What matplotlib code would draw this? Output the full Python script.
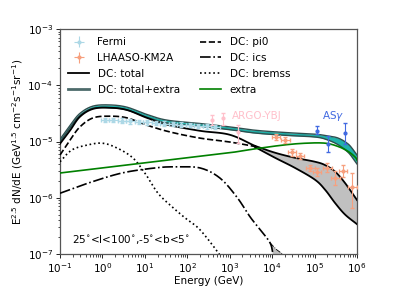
"""Diffuse gamma-ray spectrum, 25<l<100, |b|<5: DC model components vs data."""
import numpy as np
import matplotlib.pyplot as plt
from matplotlib.lines import Line2D

plt.rcParams['font.size'] = 7.5

# ---- model curves (log10 E [GeV], log10 E^2.5 dN/dE) ----
tot_logE = [-1.0, -0.76, -0.53, -0.22, 0.18, 0.58, 1.05, 1.52, 2.30, 3.00, 3.60]
tot_logF = [-5.04, -4.80, -4.56, -4.42, -4.40, -4.44, -4.58, -4.70, -4.81, -4.88, -5.08]

band_logE = [3.60, 4.07, 4.54, 5.01, 5.25, 5.49, 5.72, 6.00]
band_hi = [-5.08, -5.20, -5.29, -5.36, -5.42, -5.54, -5.74, -6.04]
band_lo = [-5.10, -5.29, -5.47, -5.68, -5.86, -6.10, -6.30, -6.47]

tx_logE = [-1.0, -0.76, -0.53, -0.22, 0.18, 0.58, 1.05, 1.52, 2.30, 3.00, 3.60,
           4.30, 5.01, 5.30, 5.56, 5.80, 5.96, 6.00]
tx_hi = [-4.96, -4.71, -4.50, -4.37, -4.35, -4.39, -4.52, -4.62, -4.68, -4.74, -4.80,
         -4.84, -4.87, -4.90, -4.94, -5.05, -5.20, -5.24]
tx_lo = [-5.00, -4.75, -4.54, -4.41, -4.40, -4.44, -4.57, -4.67, -4.73, -4.79, -4.85,
         -4.89, -4.92, -4.97, -5.06, -5.20, -5.36, -5.40]

pi0_logE = [-1.0, -0.76, -0.53, -0.22, 0.18, 0.58, 1.05, 1.59, 2.30, 3.01, 3.60, 3.75]
pi0_logF = [-5.24, -4.97, -4.74, -4.58, -4.55, -4.58, -4.71, -4.83, -4.94, -5.01, -5.09, -5.12]

ics_logE = [-1.0, -0.34, 0.46, 1.24, 1.71, 2.30, 2.77, 3.17, 3.48, 3.72, 3.95, 4.02, 4.10]
ics_logF = [-5.92, -5.74, -5.56, -5.47, -5.45, -5.47, -5.65, -5.99, -6.34, -6.57, -6.80, -7.0, -7.3]
icsb_logE = [3.95, 4.10, 4.30, 4.45]
icsb_logF = [-6.80, -6.92, -7.03, -7.15]

brem_logE = [-1.0, -0.72, -0.34, -0.01, 0.30, 0.70, 1.00, 1.31, 1.64, 1.95, 2.30, 2.77, 3.0]
brem_logF = [-5.36, -5.15, -5.06, -5.03, -5.10, -5.28, -5.56, -5.92, -6.16, -6.36, -6.57, -7.02, -7.3]

ext_logE = [-1.0, 0.0, 1.0, 2.0, 3.0, 3.6, 4.3, 4.8, 5.25, 5.56, 5.8, 5.96, 6.0]
ext_logF = [-5.56, -5.47, -5.38, -5.29, -5.20, -5.13, -5.06, -5.03, -5.03, -5.09, -5.18, -5.28, -5.33]

# ---- data points ----
fermi_logE = [0.06, 0.26, 0.46, 0.66, 0.86, 1.06, 1.26, 1.46, 1.66, 1.86, 2.06, 2.26, 2.46, 2.66]
fermi_logF = [-4.62, -4.62, -4.63, -4.64, -4.65, -4.66, -4.67, -4.68, -4.69, -4.70,
              -4.71, -4.72, -4.73, -4.74]

lh_logE = [4.09, 4.31, 4.47, 4.66, 4.90, 5.06, 5.30, 5.49, 5.67, 5.89]
lh_logF = [-4.92, -4.97, -5.19, -5.26, -5.47, -5.54, -5.47, -5.65, -5.52, -5.81]
lh_up = [0.05, 0.05, 0.06, 0.06, 0.06, 0.07, 0.08, 0.12, 0.11, 0.25]
lh_dn = [0.05, 0.05, 0.06, 0.06, 0.06, 0.07, 0.08, 0.12, 0.11, 0.37]

argo_logE = [2.58, 2.84, 3.20]
argo_logF = [-4.62, -4.58, -4.83]
argo_up = [0.09, 0.09, 0.12]
argo_dn = [0.09, 0.13, 0.20]

asg_logE = [5.06, 5.32, 5.72]
asg_logF = [-4.81, -5.04, -4.85]
asg_up = [0.09, 0.14, 0.18]
asg_dn = [0.06, 0.15, 0.19]


def p10(a):
    return 10.0 ** np.asarray(a)


def smooth(xs, ys, n=12):
    # Catmull-Rom through the read-off points, done in log-log space
    x = np.asarray(xs, float)
    y = np.asarray(ys, float)
    xp = np.concatenate([[2 * x[0] - x[1]], x, [2 * x[-1] - x[-2]]])
    yp = np.concatenate([[2 * y[0] - y[1]], y, [2 * y[-1] - y[-2]]])
    t = np.linspace(0, 1, n, endpoint=False)
    ox, oy = [], []
    for i in range(1, len(xp) - 2):
        for arr, out in ((xp, ox), (yp, oy)):
            p0, p1, p2, p3 = arr[i - 1:i + 3]
            out.extend(0.5 * (2 * p1 + (-p0 + p2) * t + (2 * p0 - 5 * p1 + 4 * p2 - p3) * t ** 2
                              + (-p0 + 3 * p1 - 3 * p2 + p3) * t ** 3))
    ox.append(x[-1]); oy.append(y[-1])
    return p10(ox), p10(oy)


def errs(logF, dn, up):
    f = p10(logF)
    return [f - f * p10(-np.asarray(dn)), f * p10(up) - f]


fig = plt.figure(figsize=(3.99, 2.99), dpi=100)
ax = fig.add_axes([60 / 399, 45 / 299, 297 / 399, 225 / 299])

# total+extra band
ex, eh = smooth(tx_logE, tx_hi)
_, el = smooth(tx_logE, tx_lo)
ax.fill_between(ex, el, eh, color='lightseagreen', lw=0, zorder=2)
ax.plot(ex, eh, color='darkslategray', lw=1.0, zorder=3)
ax.plot(ex, el, color='darkslategray', lw=1.0, zorder=3)

# total with its high-energy band
ax.plot(*smooth(tot_logE, tot_logF), color='k', lw=1.3, zorder=4)
bx, bh = smooth(band_logE, band_hi)
_, bl = smooth(band_logE, band_lo)
ax.fill_between(bx, bl, bh, color='silver', lw=0, zorder=2)
ax.plot(bx, bh, color='k', lw=1.3, zorder=4)
ax.plot(bx, bl, color='k', lw=1.3, zorder=4)

ax.plot(*smooth(pi0_logE, pi0_logF), 'k--', lw=1.2, zorder=4)
ax.plot(*smooth(ics_logE, ics_logF), 'k-.', lw=1.2, zorder=4)
ics_lo_interp = np.interp(icsb_logE, ics_logE, ics_logF)
ax.fill_between(p10(icsb_logE), p10(ics_lo_interp), p10(icsb_logF), color='silver', lw=0, zorder=2)
ax.plot(p10(icsb_logE), p10(icsb_logF), color='k', lw=0.6, ls='-.', zorder=4)
ax.plot(*smooth(brem_logE, brem_logF), 'k:', lw=1.2, zorder=4)
ax.plot(*smooth(ext_logE, ext_logF), color='green', lw=1.2, zorder=4)

# data
xe = 0.1
fE = p10(fermi_logE)
ax.errorbar(fE, p10(fermi_logF), xerr=[fE - fE * 10 ** -xe, fE * 10 ** xe - fE],
            yerr=errs(fermi_logF, [0.04] * 14, [0.04] * 14), fmt='o', ms=2, color='lightblue',
            elinewidth=0.8, capsize=1.5, zorder=5)
lE = p10(lh_logE)
ax.errorbar(lE, p10(lh_logF), xerr=[lE - lE * 10 ** -xe, lE * 10 ** xe - lE],
            yerr=errs(lh_logF, lh_dn, lh_up), fmt='o', ms=2, color='#f7a07e',
            elinewidth=0.8, capsize=1.5, zorder=5)
ax.errorbar(p10(argo_logE), p10(argo_logF), yerr=errs(argo_logF, argo_dn, argo_up),
            fmt='o', ms=2, color='pink', elinewidth=0.8, capsize=1.5, zorder=5)
ax.errorbar(p10(asg_logE), p10(asg_logF), yerr=errs(asg_logF, asg_dn, asg_up),
            fmt='o', ms=2, color='royalblue', elinewidth=0.8, capsize=1.5, zorder=5)

ax.text(1.1e3, 2.8e-5, 'ARGO-YBJ', color='pink', fontsize=7.5, va='center')
ax.text(1.5e5, 2.8e-5, r'AS$\gamma$', color='royalblue', fontsize=7.5, va='center')
ax.text(0.04, 0.065, r'25$^{\circ}$<l<100$^{\circ}$,-5$^{\circ}$<b<5$^{\circ}$',
        transform=ax.transAxes, fontsize=7.5, va='center')

ax.set_xscale('log')
ax.set_yscale('log')
ax.set_xlim(1e-1, 1e6)
ax.set_ylim(1e-7, 1e-3)
ax.set_xlabel('Energy (GeV)', labelpad=1)
ax.set_ylabel(r'E$^{2.5}$ dN/dE (GeV$^{1.5}$ cm$^{-2}$s$^{-1}$sr$^{-1}$)', labelpad=2)
ax.set_xticks(p10(np.arange(-1, 7)))
ax.tick_params(which='major', length=3, width=0.6, pad=2)
ax.tick_params(which='minor', length=1.8, width=0.5)
for s in ax.spines.values():
    s.set_color('#555555')
    s.set_linewidth(0.9)

handles, labels = [], []
h = ax.errorbar([], [], xerr=[], yerr=[], fmt='o', ms=2, color='lightblue', elinewidth=0.8, capsize=1.5)
handles.append(h); labels.append('Fermi')
h = ax.errorbar([], [], xerr=[], yerr=[], fmt='o', ms=2, color='#f7a07e', elinewidth=0.8, capsize=1.5)
handles.append(h); labels.append('LHAASO-KM2A')
handles += [Line2D([], [], color='k', lw=1.3),
            Line2D([], [], color='#4d6b6b', lw=2.0),
            Line2D([], [], color='k', ls='--', lw=1.2),
            Line2D([], [], color='k', ls='-.', lw=1.2),
            Line2D([], [], color='k', ls=':', lw=1.2),
            Line2D([], [], color='green', lw=1.2)]
labels += ['DC: total', 'DC: total+extra', 'DC: pi0', 'DC: ics', 'DC: bremss', 'extra']
ax.legend(handles, labels, ncol=2, loc='upper left', frameon=False, fontsize=7.5,
          labelspacing=0.55, borderaxespad=0.4)

fig.savefig('out.png', dpi=100)
plt.close(fig)
